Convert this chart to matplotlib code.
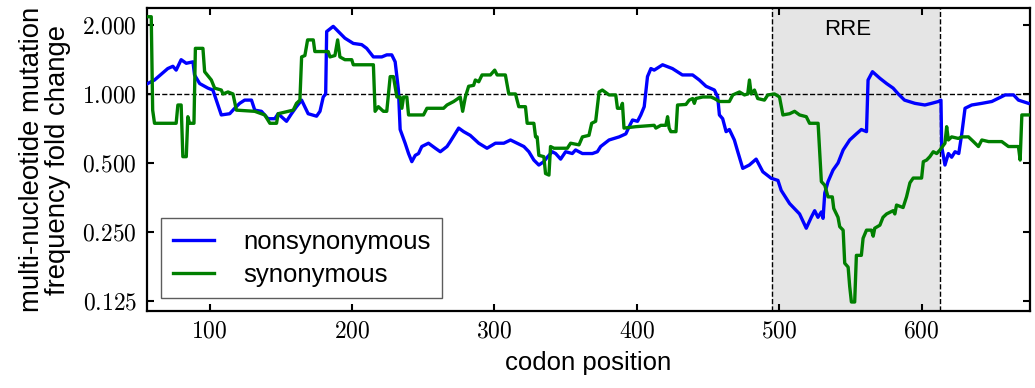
import matplotlib
matplotlib.use("Agg")
import matplotlib.pyplot as plt
from matplotlib.ticker import FixedLocator, FixedFormatter, NullLocator

plt.rcParams['font.family'] = ['Liberation Sans', 'DejaVu Sans']
plt.rcParams['mathtext.fontset'] = 'cm'

# codon position / fold change (nonsynonymous)
ns_pos = [56.5, 61.3, 70.6, 74.2, 76.5, 80, 83.6, 88.3, 89.4, 93, 98.8, 102.3, 104.7, 108.2, 114.1, 117.6,
          121.1, 124.6, 129.4, 131.7, 136.4, 141, 145.8, 148.1, 154, 157.5, 161, 164.6, 169.2, 175.1, 177.5,
          179.8, 181.5, 182.2, 186.8, 190.4, 195, 200.9, 206.8, 210.3, 215, 220.9, 224.4, 227.9, 230.3, 232.6,
          233.8, 237.3, 239.7, 242, 244.4, 246.7, 249, 253.7, 258.5, 262, 266.7, 269, 274.9, 278.4, 283, 289,
          294.8, 300.7, 306.6, 311.3, 316, 320.7, 324.2, 327.7, 331.2, 334.7, 337.1, 340.6, 343, 346.5, 350,
          354.7, 357, 361.8, 368.8, 372.3, 374.6, 380.5, 387.6, 392.3, 394.6, 397, 400.5, 402.8, 405.2, 407.5,
          409.9, 412.2, 418.1, 425, 432, 439.2, 443.9, 448.6, 454.5, 456.8, 458, 460.3, 462.7, 465, 468.5,
          470.9, 474.4, 479, 483.8, 488.5, 494.4, 499.1, 501.4, 507.3, 514.3, 519, 522.5, 524.9, 527.2, 529.6,
          530.8, 532, 534.3, 537.8, 541.3, 544.9, 549.5, 554.2, 557.7, 561.3, 562.4, 565.5, 570.7, 575.4, 580,
          583.6, 588, 595.3, 602.3, 607, 611.8, 613.6, 614.1, 616.4, 618.8, 621.1, 623.5, 626.1, 628.2, 630.5,
          635.2, 642.3, 649.3, 654, 658.7, 664.6, 668, 675]
ns_val = [1.11, 1.15, 1.29, 1.32, 1.27, 1.41, 1.36, 1.38, 1.21, 1.11, 1.06, 1.04, 0.94, 0.81, 0.82, 0.866,
          0.91, 0.94, 0.94, 0.85, 0.84, 0.78, 0.78, 0.82, 0.76, 0.82, 0.88, 0.94, 0.82, 0.80, 0.84,
          0.97, 1.0, 1.87, 1.97, 1.87, 1.75, 1.66, 1.64, 1.58, 1.45, 1.45, 1.48, 1.48, 1.38, 1.04,
          0.70, 0.61, 0.55, 0.507, 0.54, 0.55, 0.59, 0.61, 0.58, 0.56, 0.59, 0.62, 0.71, 0.685, 0.66, 0.61,
          0.58, 0.61, 0.61, 0.63, 0.61, 0.59, 0.56, 0.515, 0.49, 0.507, 0.53, 0.56, 0.55, 0.52, 0.56,
          0.55, 0.57, 0.55, 0.55, 0.56, 0.59, 0.63, 0.65, 0.67, 0.72, 0.77, 0.76, 0.81, 0.88, 1.19,
          1.29, 1.27, 1.34, 1.29, 1.21, 1.21, 1.15, 1.08, 1.04, 0.97, 0.81, 0.78, 0.685, 0.70, 0.63,
          0.56, 0.474, 0.49, 0.52, 0.458, 0.429, 0.42, 0.38, 0.333, 0.30, 0.26, 0.29, 0.31, 0.29, 0.306,
          0.287, 0.37, 0.415, 0.466, 0.50, 0.57, 0.63, 0.67, 0.70, 0.685, 1.15, 1.25, 1.17, 1.11, 1.06,
          1.0, 0.94, 0.91, 0.895, 0.91, 0.927, 0.94, 0.59, 0.49, 0.55, 0.53, 0.56, 0.55, 0.67, 0.866,
          0.895, 0.91, 0.927, 0.958, 0.99, 0.99, 0.94, 0.91]

# codon position / fold change (synonymous)
syn_pos = [56.5, 59, 60, 61.3, 76.5, 77.7, 80, 81.2, 83.6, 84.7, 85.9, 89, 90, 95.3, 96.5, 101.2, 103.5,
           108.2, 109.4, 112.9, 116.4, 118.8, 131.7, 138.7, 142.3, 147, 148.1, 158.7, 161, 163.4, 164.6,
           166.9, 168.8, 172.8, 173.9, 183.3, 184.5, 188, 189.9, 191.5, 195, 199.8, 200.9, 215, 216.2,
           218.5, 222, 224.4, 226.8, 229.1, 231.5, 233.8, 235, 236.2, 238.5, 239.7, 250.2, 252.6, 264.3,
           266.7, 271.4, 276, 277.7, 279.6, 281.9, 285.4, 286.6, 289, 291.3, 297.2, 300.2, 301.9, 307.7,
           310.1, 314.8, 317.1, 321.8, 323, 327.7, 328.9, 330, 331.2, 334.7, 335.9, 338.3, 339.4, 341.8,
           351.2, 353.5, 359.4, 361.8, 366.4, 368.3, 371.1, 373.5, 375.8, 380.5, 385.2, 386.4, 388.7,
           389.9, 391, 399.3, 412.2, 413.4, 416.9, 420.4, 421.6, 422.7, 423.9, 427.5, 428.6, 434.5, 436.8,
           439.2, 440.4, 441.5, 446.3, 452.1, 454.5, 458, 465, 467.4, 472.1, 475.6, 477.9, 479.1, 480.3,
           482.6, 484.9, 489.6, 492, 496.7, 500.2, 502.6, 507.3, 510.8, 514.3, 519, 521.3, 527.3, 529.6,
           532, 534.3, 537.3, 538.3, 541.3, 542.5, 544.9, 546, 548.4, 549.5, 550.7, 553, 554.2, 557.7,
           558.9, 561.3, 564.8, 566, 567.1, 570.7, 572.9, 575.4, 580, 581.2, 582.4, 587, 589.4, 591.8,
           594.1, 600, 601.2, 603.5, 605.8, 608.2, 610.6, 612.9, 616.4, 617.6, 618.8, 621.1, 625.8, 628.2,
           632.9, 636.4, 639.9, 642.3, 647, 656.3, 661, 668, 669.2, 670.4, 675]
syn_val = [2.17, 2.17, 0.85, 0.745, 0.745, 0.895, 0.895, 0.533, 0.533, 0.796, 0.745, 0.745, 1.58, 1.58, 1.25,
           1.15, 1.06, 1.04, 1.0, 1.02, 1.0, 0.85, 0.84, 0.81, 0.745, 0.745, 0.82, 0.85, 0.91, 0.94, 1.45,
           1.47, 1.72, 1.72, 1.53, 1.53, 1.45, 1.47, 1.72, 1.45, 1.41, 1.41, 1.34, 1.34, 0.84,
           0.88, 0.84, 0.84, 1.19, 1.19, 0.97, 0.97, 0.866, 0.97, 0.97, 0.81, 0.81, 0.866, 0.866,
           0.895, 0.927, 0.97, 0.84, 0.97, 1.08, 1.09, 1.15, 1.13, 1.21, 1.21, 1.27, 1.21, 1.21,
           1.0, 1.0, 0.88, 0.88, 0.745, 0.745, 0.65, 0.65, 0.54, 0.533, 0.45, 0.443, 0.59, 0.58,
           0.58, 0.61, 0.60, 0.65, 0.66, 0.745, 0.76, 1.02, 1.04, 0.99, 0.99, 0.866, 0.866,
           0.91, 0.71, 0.72, 0.73, 0.71, 0.73, 0.73, 0.796, 0.71, 0.685, 0.685, 0.895, 0.90, 0.94,
           0.955, 0.91, 0.955, 0.97, 0.97, 0.955, 0.927, 0.927, 0.99, 1.02, 0.99, 1.0, 1.15, 1.0,
           1.04, 0.955, 0.94, 0.99, 1.0, 0.97, 0.81, 0.82, 0.84, 0.81, 0.796, 0.745, 0.745, 0.415,
           0.40, 0.356, 0.356, 0.317, 0.29, 0.264, 0.255, 0.183, 0.176, 0.145, 0.124, 0.124, 0.198, 0.198,
           0.235, 0.255, 0.255, 0.24, 0.26, 0.268, 0.29, 0.30, 0.31, 0.30, 0.328, 0.32, 0.356, 0.41,
           0.43, 0.43, 0.507, 0.515, 0.533, 0.56, 0.55, 0.57, 0.61, 0.72, 0.63, 0.65, 0.64, 0.65,
           0.65, 0.62, 0.59, 0.63, 0.62, 0.62, 0.59, 0.59, 0.515, 0.81, 0.81]

x_ticks = [100, 200, 300, 400, 500, 600]
y_ticks = [0.125, 0.25, 0.5, 1.0, 2.0]
y_tick_labels = ['0.125', '0.250', '0.500', '1.000', '2.000']
rre_start, rre_end = 495, 613

fig = plt.figure(figsize=(10.35, 3.88), dpi=100)
ax = fig.add_axes([0.142, 0.198, 0.853, 0.781])

ax.axvspan(rre_start, rre_end, color='#e5e5e5', zorder=0, lw=0)
ax.axvline(rre_start, color='black', ls='--', lw=1, zorder=1)
ax.axvline(rre_end, color='black', ls='--', lw=1, zorder=1)
ax.axhline(1.0, color='black', ls='--', lw=1, zorder=1)

ax.plot(ns_pos, ns_val, color='#0000ff', lw=2.4, label='nonsynonymous', zorder=3)
ax.plot(syn_pos, syn_val, color='#007f00', lw=2.4, label='synonymous', zorder=3)

ax.set_yscale('log', base=2)
ax.set_xlim(56, 676)
ax.set_ylim(0.1131, 2.365)
ax.yaxis.set_major_locator(FixedLocator(y_ticks))
ax.yaxis.set_major_formatter(FixedFormatter(['$' + s + '$' for s in y_tick_labels]))
ax.yaxis.set_minor_locator(NullLocator())
ax.xaxis.set_major_locator(FixedLocator(x_ticks))
ax.xaxis.set_major_formatter(FixedFormatter(['$%d$' % t for t in x_ticks]))
ax.xaxis.set_minor_locator(NullLocator())

ax.tick_params(axis='both', which='major', direction='in', length=5, width=1.5,
               top=True, right=True, labelsize=17, pad=7)
for s in ax.spines.values():
    s.set_linewidth(1.6)

ax.text(548, 1.91, 'RRE', ha='center', va='center', fontsize=16)

ax.set_xlabel('codon position', fontsize=18.5, labelpad=6)
ax.set_ylabel('multi-nucleotide mutation\nfrequency fold change', fontsize=19.8,
              linespacing=1.0, labelpad=8)

leg = ax.legend(loc='lower left', bbox_to_anchor=(0.016, 0.043), borderaxespad=0,
                fontsize=18.5, handlelength=1.6, handletextpad=1.15, labelspacing=0.35,
                borderpad=0.45, fancybox=False, frameon=True)
leg.get_frame().set_edgecolor('#333333')
leg.get_frame().set_linewidth(1.0)

fig.savefig('out.png', dpi=100)
